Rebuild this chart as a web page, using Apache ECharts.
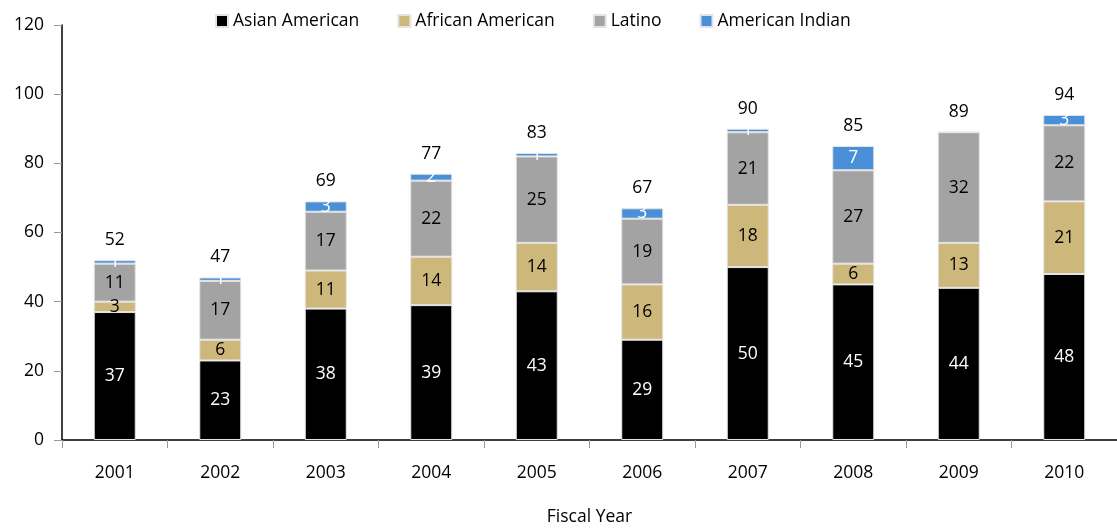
<!DOCTYPE html>
<html>
<head>
<meta charset="utf-8">
<script src="https://cdn.jsdelivr.net/npm/echarts@6/dist/echarts.min.js"></script>
<style>
  html, body { margin: 0; padding: 0; background: #fff; }
  #chart { width: 1117px; height: 531px; }
</style>
</head>
<body>
<div id="chart"></div>
<script>
const years = ['2001', '2002', '2003', '2004', '2005', '2006', '2007', '2008', '2009', '2010']
const asianAmerican = [37, 23, 38, 39, 43, 29, 50, 45, 44, 48]
const africanAmerican = [3, 6, 11, 14, 14, 16, 18, 6, 13, 21]
const latino = [11, 17, 17, 22, 25, 19, 21, 27, 32, 22]
const americanIndian = [1, 1, 3, 2, 1, 3, 1, 7, 0, 3]
const totals = [52, 47, 69, 77, 83, 67, 90, 85, 89, 94]
const yTicks = [0, 20, 40, 60, 80, 100, 120]

const font = '"Open Sans", "Noto Sans", sans-serif'
const fs = 17.5
const chart = echarts.init(document.getElementById('chart'))

// 每段的公共设置
const segment = (name, data, color, labelColor) => ({
  name: name,
  type: 'bar',
  stack: 'all',
  barWidth: 42,
  data: data,
  itemStyle: { color: color, borderColor: '#e4e4e4', borderWidth: 1 },
  label: {
    show: true,
    position: 'inside',
    color: labelColor,
    fontFamily: font,
    fontSize: fs,
    formatter: p => (p.value ? String(p.value) : '')
  }
})

const option = {
  animation: false,
  textStyle: { fontFamily: font },
  legend: {
    data: ['Asian American', 'African American', 'Latino', 'American Indian'],
    icon: 'rect',
    left: 210,
    top: 7,
    itemWidth: 12,
    itemHeight: 12,
    itemGap: 38,
    textStyle: { fontSize: fs, color: '#000', fontFamily: font }
  },
  grid: { left: 62, right: 0, top: 25, bottom: 88 },
  xAxis: {
    type: 'category',
    data: years,
    name: 'Fiscal Year',
    nameLocation: 'middle',
    nameGap: 68,
    nameTextStyle: { fontSize: fs, color: '#000', fontFamily: font },
    axisLine: { lineStyle: { color: '#000', width: 1.5 } },
    axisTick: { show: true, length: 8, lineStyle: { color: '#999' } },
    axisLabel: { margin: 24, fontSize: fs, color: '#000', fontFamily: font }
  },
  yAxis: {
    type: 'value',
    min: yTicks[0],
    max: yTicks[yTicks.length - 1],
    interval: 20,
    splitLine: { show: false },
    axisLine: { show: true, lineStyle: { color: '#000', width: 1.5 } },
    axisTick: { show: true, length: 8, lineStyle: { color: '#999' } },
    axisLabel: { margin: 18, fontSize: fs, color: '#000', fontFamily: font }
  },
  series: [
    segment('Asian American', asianAmerican, '#000000', '#fff'),
    segment('African American', africanAmerican, '#cdb77b', '#000'),
    segment('Latino', latino, '#a3a3a3', '#000'),
    segment('American Indian', americanIndian, '#4a90d9', '#fff'),
    {
      // 柱子上方的总数
      name: 'Total',
      type: 'bar',
      stack: 'all',
      barWidth: 42,
      data: years.map(() => 0),
      itemStyle: { color: 'transparent' },
      label: {
        show: true,
        position: 'top',
        distance: 11,
        color: '#000',
        fontFamily: font,
        fontSize: fs,
        formatter: p => String(totals[p.dataIndex])
      }
    }
  ]
}
chart.setOption(option)
</script>
</body>
</html>
